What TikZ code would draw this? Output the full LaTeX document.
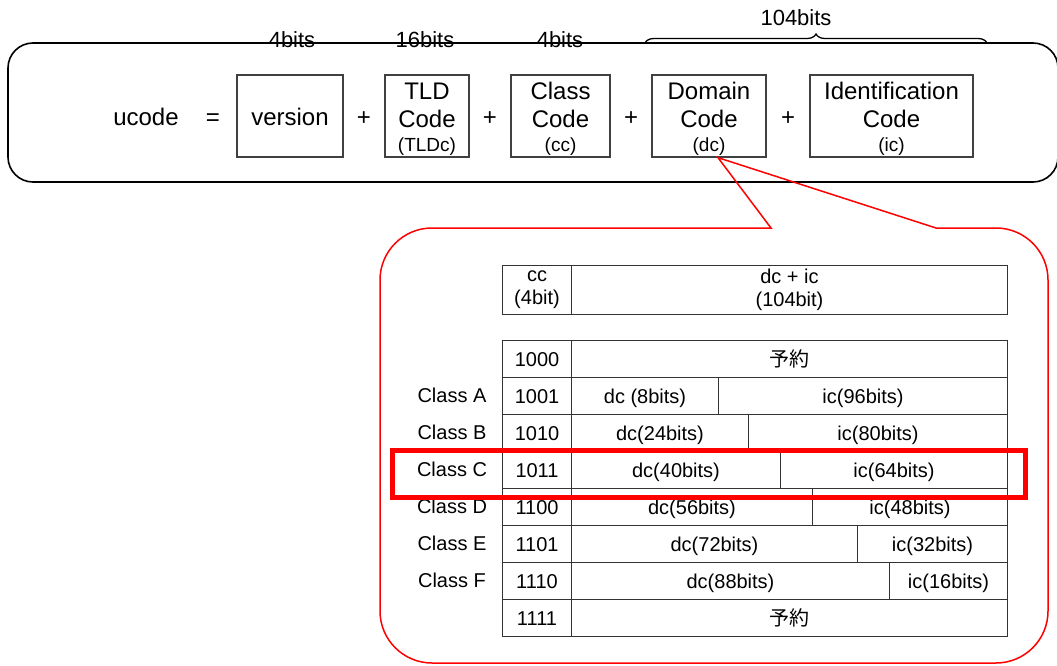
\documentclass[tikz,border=0pt]{standalone}
\usepackage{fontspec}
\setmainfont{Liberation Sans}
\newfontfamily\jpfont{Noto Sans CJK JP}
\usetikzlibrary{decorations.pathreplacing}
\begin{document}
\begin{tikzpicture}[x=1pt,y=-1pt,
  codebox/.style={draw=black!75, line width=1.3pt, minimum height=82pt, inner sep=0pt},
  big/.style={font=\fontsize{24}{28}\selectfont, inner sep=0pt, anchor=base},
  small/.style={font=\fontsize{19}{22}\selectfont, inner sep=0pt, anchor=base},
  bits/.style={font=\fontsize{22}{26}\selectfont, inner sep=0pt, anchor=base},
  cell/.style={draw=black!80, line width=1pt, anchor=north west, inner sep=0pt,
    minimum height=37pt, font=\fontsize{20}{23}\selectfont, text height=14.3pt, text depth=0pt},
  hcell/.style={draw=black!80, line width=1pt, anchor=north west, inner sep=0pt,
    minimum height=49pt, align=center, font=\fontsize{20}{23}\selectfont},
  clabel/.style={inner sep=0pt, font=\fontsize{20}{23}\selectfont, text height=14.3pt, text depth=0pt},
  callout/.style={draw=red, line width=1.5pt},
  highlight/.style={draw=red, line width=5pt}
]
\useasboundingbox (0,0) rectangle (1057,666);

% outer ucode frame
\node[draw=black, line width=1.6pt, rounded corners=25pt, minimum width=1050pt, minimum height=139pt, inner sep=0pt] (outer) at (533,112.5) {};

% bit labels
\node[bits] (b1) at (292,48) {4bits};
\node[bits] (b2) at (425,48) {16bits};
\node[bits] (b3) at (560,48) {4bits};
\node[bits] (b4) at (796,26) {104bits};
\draw[decorate, decoration={brace, amplitude=9pt}, line width=1.3pt] (645,43) -- (987,43);

% formula
\node[big] (ucode) at (146,125) {ucode};
\node[big] (eq) at (213,125) {=};
\node[big] (p1) at (364,125) {+};
\node[big] (p2) at (490,125) {+};
\node[big] (p3) at (631,125) {+};
\node[big] (p4) at (788,125) {+};

\node[codebox, minimum width=106pt] (ver) at (290,116) {};
\node[codebox, minimum width=84pt] (tld) at (427,116) {};
\node[codebox, minimum width=99pt] (cls) at (560.5,116) {};
\node[codebox, minimum width=114pt] (dc) at (709,116) {};
\node[codebox, minimum width=163pt] (ic) at (891.5,116) {};

\node[big] (verT) at (290,125) {version};
\node[big] (tldA) at (427,100) {TLD};
\node[big] (tldB) at (427,128) {Code};
\node[small] (tldC) at (427,151) {(TLDc)};
\node[big] (clsA) at (560.5,100) {Class};
\node[big] (clsB) at (560.5,128) {Code};
\node[small] (clsC) at (560.5,151) {(cc)};
\node[big] (dcA) at (709,100) {Domain};
\node[big] (dcB) at (709,128) {Code};
\node[small] (dcC) at (709,151) {(dc)};
\node[big] (icA) at (891.5,100) {Identification};
\node[big] (icB) at (891.5,128) {Code};
\node[small] (icC) at (891.5,151) {(ic)};

% callout (rounded with radius 52)
\coordinate (tip) at ([xshift=9pt]dc.south);
\draw[callout] (tip) -- (936,228) -- (996,228)
  .. controls (1024.7,228) and (1048,251.3) .. (1048,280)
  -- (1048,611) .. controls (1048,639.7) and (1024.7,663) .. (996,663) -- (432,663)
  .. controls (403.3,663) and (380,639.7) .. (380,611) -- (380,280)
  .. controls (380,251.3) and (403.3,228) .. (432,228)
  -- (771,228) -- cycle;

% header table
\node[hcell, minimum width=69pt] (hcc) at (502,265) {cc\\(4bit)};
\node[hcell, minimum width=436pt] (hdi) at (571,265) {dc + ic\\(104bit)};

% code column
\node[cell, minimum width=69pt] (k0) at (502,340) {1000};
\node[cell, minimum width=69pt] (k1) at (502,377) {1001};
\node[cell, minimum width=69pt] (k2) at (502,414) {1010};
\node[cell, minimum width=69pt] (k3) at (502,451) {1011};
\node[cell, minimum width=69pt] (k4) at (502,488) {1100};
\node[cell, minimum width=69pt] (k5) at (502,525) {1101};
\node[cell, minimum width=69pt] (k6) at (502,562) {1110};
\node[cell, minimum width=69pt] (k7) at (502,599) {1111};

% dc / ic split
\node[cell, minimum width=436pt] (r0) at (571,340) {\jpfont 予約};
\node[cell, minimum width=147pt] (a1) at (571,377) {dc (8bits)};
\node[cell, minimum width=289pt] (b1c) at (718,377) {ic(96bits)};
\node[cell, minimum width=177pt] (a2) at (571,414) {dc(24bits)};
\node[cell, minimum width=259pt] (b2c) at (748,414) {ic(80bits)};
\node[cell, minimum width=209pt] (a3) at (571,451) {dc(40bits)};
\node[cell, minimum width=227pt] (b3c) at (780,451) {ic(64bits)};
\node[cell, minimum width=241pt] (a4) at (571,488) {dc(56bits)};
\node[cell, minimum width=195pt] (b4c) at (812,488) {ic(48bits)};
\node[cell, minimum width=286pt] (a5) at (571,525) {dc(72bits)};
\node[cell, minimum width=150pt] (b5c) at (857,525) {ic(32bits)};
\node[cell, minimum width=318pt] (a6) at (571,562) {dc(88bits)};
\node[cell, minimum width=118pt] (b6c) at (889,562) {ic(16bits)};
\node[cell, minimum width=436pt] (r7) at (571,599) {\jpfont 予約};

% class labels
\node[clabel] (cA) at (452,395.5) {Class A};
\node[clabel] (cB) at (452,432.5) {Class B};
\node[clabel] (cC) at (452,469.5) {Class C};
\node[clabel] (cD) at (452,506.5) {Class D};
\node[clabel] (cE) at (452,543.5) {Class E};
\node[clabel] (cF) at (452,580.5) {Class F};

% highlight of class C
\node[highlight, minimum width=633pt, minimum height=47pt, inner sep=0pt] (hl) at (708.5,473.5) {};
\end{tikzpicture}
\end{document}
